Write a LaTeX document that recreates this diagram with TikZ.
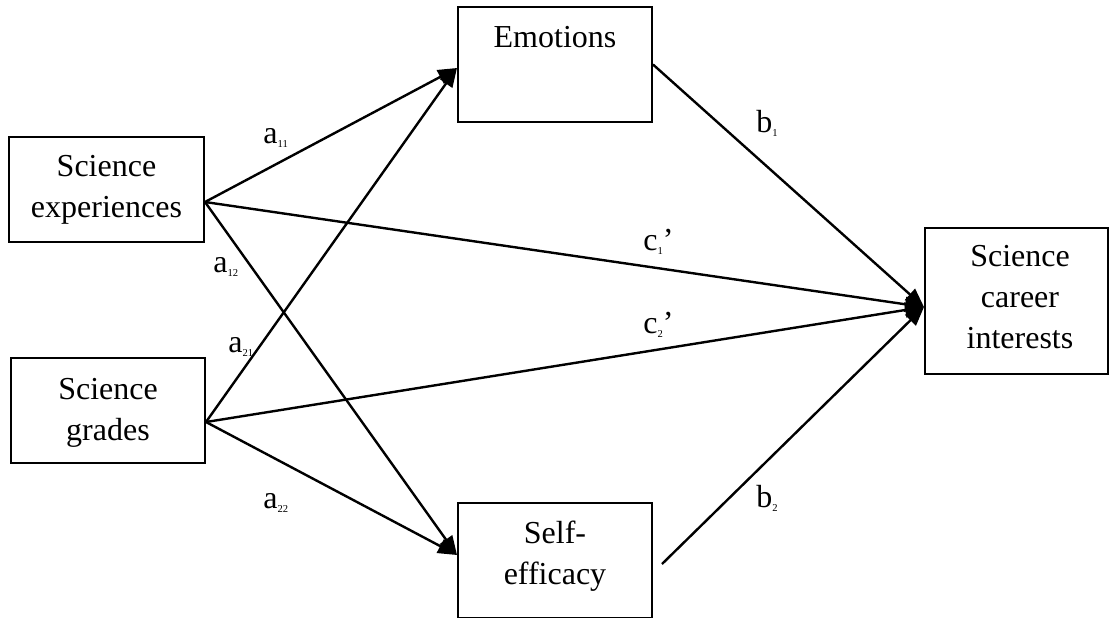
\documentclass[tikz,border=0pt]{standalone}
\usepackage{fontspec}
\setmainfont{Liberation Serif}
\usetikzlibrary{arrows.meta,calc}
% tiny lowered index used in the path labels
\newcommand\idx[1]{\raisebox{-0.3ex}{\fontsize{5.3}{6}\selectfont #1}}
\begin{document}
\begin{tikzpicture}[x=0.5pt,y=-0.5pt,
  box/.style={draw, line width=1pt, inner sep=0pt},
  boxtext/.style={font=\fontsize{16}{20.5}\selectfont, align=center, anchor=north, inner sep=0pt},
  link/.style={line width=1.2pt, -{Triangle[length=9.5pt,width=7.5pt]}},
  lbl/.style={font=\fontsize{16}{20}\selectfont, anchor=base west, inner sep=0pt}]
\useasboundingbox (0,0) rectangle (1110,617);

% variable boxes
\node[box, minimum width=97pt, minimum height=57.5pt] (emo)  at (555,64.5) {};
\node[box, minimum width=97.5pt, minimum height=52.5pt] (exp) at (106.5,189.5) {};
\node[box, minimum width=97pt, minimum height=52.5pt] (grd)  at (108,410.5) {};
\node[box, minimum width=97pt, minimum height=57.5pt] (self) at (555,560.5) {};
\node[box, minimum width=91.5pt, minimum height=73pt] (car)  at (1016.5,301) {};

% box captions, set from the top of each box
\node[boxtext] (emotxt)  at (555,26)    {Emotions};
\node[boxtext] (exptxt)  at (106.5,155) {Science\\experiences};
\node[boxtext] (grdtxt)  at (108,378)   {Science\\grades};
\node[boxtext] (selftxt) at (555,521)   {Self-\\efficacy};
\node[boxtext] (cartxt)  at (1020,245)  {Science\\career\\interests};

% attachment points
\coordinate (expo)  at ($(exp.east)+(0,12.5)$);
\coordinate (grdo)  at ($(grd.east)+(0,11.5)$);
\coordinate (emoi)  at ($(emo.west)+(0,3.5)$);
\coordinate (emoo)  at (emo.east);
\coordinate (selfi) at ($(self.west)+(0,-5.5)$);
\coordinate (selfo) at ($(self.east)+(9,3.5)$);
\coordinate (cari)  at ($(car.west)+(0,6)$);

% paths
\draw[link] (expo) -- (emoi);
\draw[link] (expo) -- (selfi);
\draw[link] (expo) -- (cari);
\draw[link] (grdo) -- (emoi);
\draw[link] (grdo) -- (selfi);
\draw[link] (grdo) -- (cari);
\draw[link] (emoo) -- (cari);
\draw[link] (selfo) -- (cari);

% path coefficients
\node[lbl] (la11) at (263,143) {a\idx{11}};
\node[lbl] (la12) at (213,272) {a\idx{12}};
\node[lbl] (la21) at (228,352) {a\idx{21}};
\node[lbl] (la22) at (263,508) {a\idx{22}};
\node[lbl] (lb1)  at (756,132) {b\idx{1}};
\node[lbl] (lb2)  at (756,507) {b\idx{2}};
\node[lbl] (lc1)  at (643,250) {c\idx{1}’};
\node[lbl] (lc2)  at (643,333) {c\idx{2}’};
\end{tikzpicture}
\end{document}
